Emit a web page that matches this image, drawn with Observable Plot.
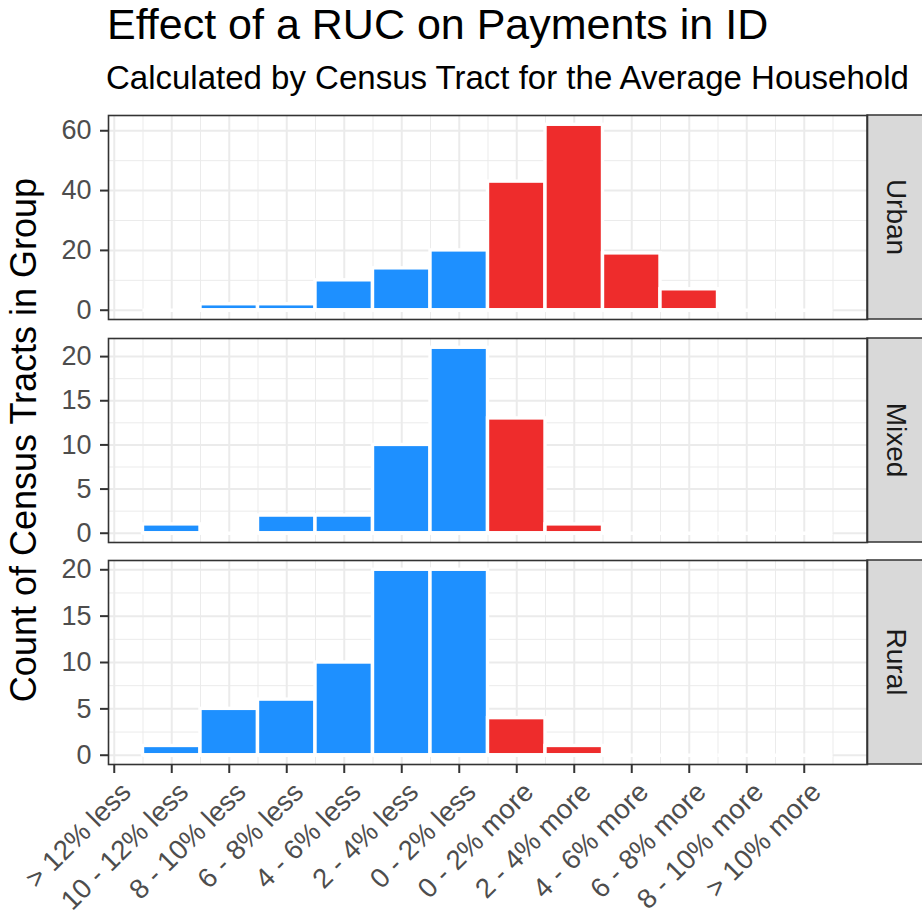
<!DOCTYPE html>
<html>
<head>
<meta charset="utf-8">
<script src="https://cdn.jsdelivr.net/npm/d3@7"></script>
<script src="https://cdn.jsdelivr.net/npm/@observablehq/plot@0.6"></script>
<style>
  body { margin: 0; background: #fff; }
  #chart { position: relative; width: 922px; height: 918px; overflow: hidden; background: #fff;
           font-family: "Liberation Sans", Arial, sans-serif; }
  #chart > svg { position: absolute; left: 0; }
</style>
</head>
<body>
<div id="chart"></div>
<script>
// ---------------- data ----------------
const categories = ["> 12% less", "10 - 12% less", "8 - 10% less", "6 - 8% less", "4 - 6% less",
  "2 - 4% less", "0 - 2% less", "0 - 2% more", "2 - 4% more", "4 - 6% more", "6 - 8% more",
  "8 - 10% more", "> 10% more"];
const groups = ["Urban", "Mixed", "Rural"];
// null = category absent from that group's data
const urbanCounts = [null, 0, 2, 2, 10, 14, 20, 43, 62, 19, 7, 0, 0];
const mixedCounts = [null, 1, 0, 2, 2, 10, 21, 13, 1, 0, 0, 0, 0];
const ruralCounts = [null, 1, 5, 6, 10, 20, 20, 4, 1, 0, 0, 0, 0];
const urbanTicks = [0, 20, 40, 60];
const mixedTicks = [0, 5, 10, 15, 20];
const ruralTicks = [0, 5, 10, 15, 20];
const titleText = "Effect of a RUC on Payments in ID";
const subtitleText = "Calculated by Census Tract for the Average Household";
const yTitleText = "Count of Census Tracts in Group";
const colorLess = "#1E90FF";
const colorMore = "#EE2C2C";

// ---------------- helpers ----------------
const countsByGroup = {Urban: urbanCounts, Mixed: mixedCounts, Rural: ruralCounts};
const ticksByGroup = {Urban: urbanTicks, Mixed: mixedTicks, Rural: ruralTicks};
const positions = categories.map((c, i) => i + 1);

const allRows = groups.flatMap(g => categories.map((c, i) => ({
  group: g, cat: c, pos: i + 1, count: countsByGroup[g][i],
  dir: c.endsWith("more") ? "more" : "less"
}))).filter(d => d.count != null);

// continuous x domain with ggplot-like 5% expansion
const xLo = d3.min(allRows, d => d.pos) - 0.5;
const xHi = d3.max(allRows, d => d.pos) + 0.5;
const xPad = (xHi - xLo) * 0.05;
const xDomain = [xLo - xPad, xHi + xPad];
const xMinor = positions.map(p => p + 0.5).filter(p => p > xDomain[0] && p < xDomain[1]);

function minorOf(ticks, ymax) {
  const step = ticks[1] - ticks[0];
  const out = [];
  for (let v = ticks[0] + step / 2; v < ymax; v += step) out.push(v);
  return out;
}

const FONT = '"Liberation Sans", Arial, sans-serif';
const chart = document.getElementById("chart");

const layout = {
  Urban: {top: 105, height: 225, mt: 10, mb: 11},
  Mixed: {top: 328, height: 224, mt: 10, mb: 10},
  Rural: {top: 550, height: 368, mt: 10, mb: 154}
};

groups.forEach((g, gi) => {
  const rows = allRows.filter(d => d.group === g);
  const ymax = d3.max(rows, d => d.count);
  const yDomain = [-0.05 * ymax, 1.05 * ymax];
  const ticks = ticksByGroup[g];
  const minor = minorOf(ticks, yDomain[1]);
  const L = layout[g];
  const isBottom = gi === groups.length - 1;

  const stripMark = (index, scales, values, dims) => {
    const gEl = d3.create("svg:g");
    const x0 = dims.width - dims.marginRight;
    const y0 = dims.marginTop;
    const h = dims.height - dims.marginTop - dims.marginBottom;
    gEl.append("rect")
      .attr("x", x0).attr("y", y0)
      .attr("width", dims.marginRight + 4).attr("height", h)
      .attr("fill", "#D9D9D9").attr("stroke", "#333").attr("stroke-width", 1.5);
    gEl.append("text")
      .attr("transform", `translate(${x0 + 29},${y0 + h / 2}) rotate(90)`)
      .attr("text-anchor", "middle")
      .attr("dominant-baseline", "central")
      .attr("font-size", 28)
      .attr("fill", "#1A1A1A")
      .attr("font-family", FONT)
      .text(g);
    return gEl.node();
  };

  const marks = [
    Plot.gridY(minor, {stroke: "#EBEBEB", strokeOpacity: 1, strokeWidth: 1}),
    Plot.gridX(xMinor, {stroke: "#EBEBEB", strokeOpacity: 1, strokeWidth: 1}),
    Plot.gridY(ticks, {stroke: "#EBEBEB", strokeOpacity: 1, strokeWidth: 2}),
    Plot.gridX(positions, {stroke: "#EBEBEB", strokeOpacity: 1, strokeWidth: 2}),
    Plot.ruleY(rows, {y: 0, x1: d => d.pos - 0.5, x2: d => d.pos + 0.5, stroke: "white", strokeWidth: 3.4}),
    Plot.rectY(rows.filter(d => d.count > 0), {
      x1: d => d.pos - 0.5, x2: d => d.pos + 0.5, y1: 0, y2: "count",
      fill: "dir", stroke: "white", strokeWidth: 3.4
    }),
    stripMark,
    Plot.frame({stroke: "#333", strokeWidth: 1.6}),
    Plot.axisY(ticks, {
      tickSize: 8, tickPadding: 9, fontSize: 27, stroke: "#333", strokeWidth: 2,
      fill: "#4D4D4D", label: null
    })
  ];
  if (isBottom) {
    marks.push(
      Plot.axisX(positions, {tickSize: 9, tickFormat: () => "", stroke: "#333", strokeWidth: 2, label: null}),
      Plot.text(positions, {
        x: d => d, text: d => categories[d - 1], frameAnchor: "bottom",
        rotate: -45, textAnchor: "end", lineAnchor: "middle",
        dx: 12, dy: 23, fontSize: 27.5, fill: "#4D4D4D"
      })
    );
  }

  const svg = Plot.plot({
    width: 922, height: L.height,
    marginLeft: 108, marginRight: 55, marginTop: L.mt, marginBottom: L.mb,
    x: {type: "linear", domain: xDomain, axis: null},
    y: {type: "linear", domain: yDomain, axis: null},
    color: {domain: ["less", "more"], range: [colorLess, colorMore]},
    style: {fontFamily: FONT, background: "transparent", overflow: "visible"},
    marks
  });
  svg.style.top = L.top + "px";
  chart.appendChild(svg);
});

// ---------------- titles ----------------
const over = d3.create("svg")
  .attr("width", 922).attr("height", 918)
  .style("top", "0px").style("pointer-events", "none")
  .attr("font-family", FONT);
over.append("text").attr("x", 107).attr("y", 39)
  .attr("font-size", 43).attr("fill", "#000").text(titleText);
over.append("text").attr("x", 106).attr("y", 89)
  .attr("font-size", 33).attr("fill", "#000").text(subtitleText);
over.append("text")
  .attr("transform", "translate(36,440) rotate(-90)")
  .attr("text-anchor", "middle")
  .attr("font-size", 36).attr("fill", "#000").text(yTitleText);
chart.appendChild(over.node());
</script>
</body>
</html>
